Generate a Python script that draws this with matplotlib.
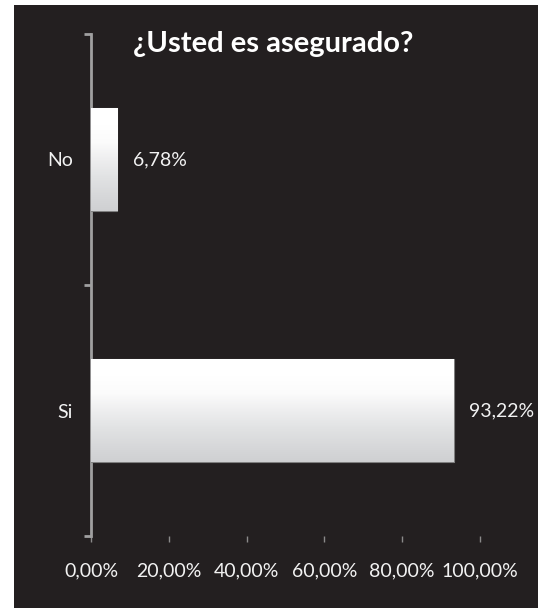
import numpy as np
import matplotlib
matplotlib.use('Agg')
import matplotlib.pyplot as plt
from matplotlib.patches import Rectangle

# --- data ---
categories = ['Si', 'No']
values = [93.22, 6.78]
value_labels = ['93,22%', '6,78%']
x_ticks = [0, 20, 40, 60, 80, 100]
x_tick_labels = ['0,00%', '20,00%', '40,00%', '60,00%', '80,00%', '100,00%']
title = '¿Usted es asegurado?'

BG = '#231f20'
TXT = '#f2f2f2'
plt.rcParams['font.family'] = ['Lato', 'DejaVu Sans']

fig = plt.figure(figsize=(5.38, 6.08), dpi=100)
fig.patch.set_facecolor('white')
# dark panel (white margin at left and top)
fig.patches.append(Rectangle((14 / 538, 0), 1, 1 - 5 / 608, transform=fig.transFigure,
                             facecolor=BG, edgecolor='none', zorder=-10))

ax = fig.add_axes([91 / 538, 1 - 536 / 608, (480 - 91) / 538, 502 / 608])
ax.set_facecolor('none')

y = np.arange(len(categories))
bars = ax.barh(y, values, height=0.41, color='white', edgecolor='#7f7f7f', lw=0.8, zorder=3)

# soft white -> grey gradient on each bar
grad = np.linspace(0, 1, 100).reshape(-1, 1)
cmap = matplotlib.colors.LinearSegmentedColormap.from_list(
    'g', ['#cfd0d2', '#d8d9db', '#e2e3e4', '#eeeeef', '#fbfbfb', '#ffffff', '#ffffff'])
for b in bars:
    x0, y0, w, h = b.get_x(), b.get_y(), b.get_width(), b.get_height()
    im = ax.imshow(grad, extent=(x0, x0 + w, y0, y0 + h), aspect='auto', cmap=cmap,
                   origin='lower', zorder=3.5)
    im.set_clip_path(b)

for yi, v, lab in zip(y, values, value_labels):
    ax.text(v + 4.0, yi, lab, color=TXT, fontsize=14, va='center', ha='left')

ax.set_xlim(0, 100)
ax.set_ylim(-0.5, 1.5)
ax.set_xticks(x_ticks)
ax.set_xticklabels(x_tick_labels, color=TXT, fontsize=14)
ax.set_yticks(y)
ax.set_yticklabels(categories, color=TXT, fontsize=14)
ax.set_yticks([-0.5, 0.5, 1.5], minor=True)

ax.tick_params(axis='y', which='major', length=0, pad=13)
ax.tick_params(axis='y', which='minor', length=5, width=2, color='#a0a0a0')
ax.tick_params(axis='x', length=4, width=1, color='#8a8a8a', pad=15)

for s in ['top', 'right', 'bottom']:
    ax.spines[s].set_visible(False)
ax.spines['left'].set_color('#a0a0a0')
ax.spines['left'].set_linewidth(2)

fig.text(273 / 538, 1 - 44 / 608, title, color='white', fontsize=21,
         fontweight='bold', ha='center', va='center')

fig.savefig('out.png', dpi=100, facecolor=fig.get_facecolor())
